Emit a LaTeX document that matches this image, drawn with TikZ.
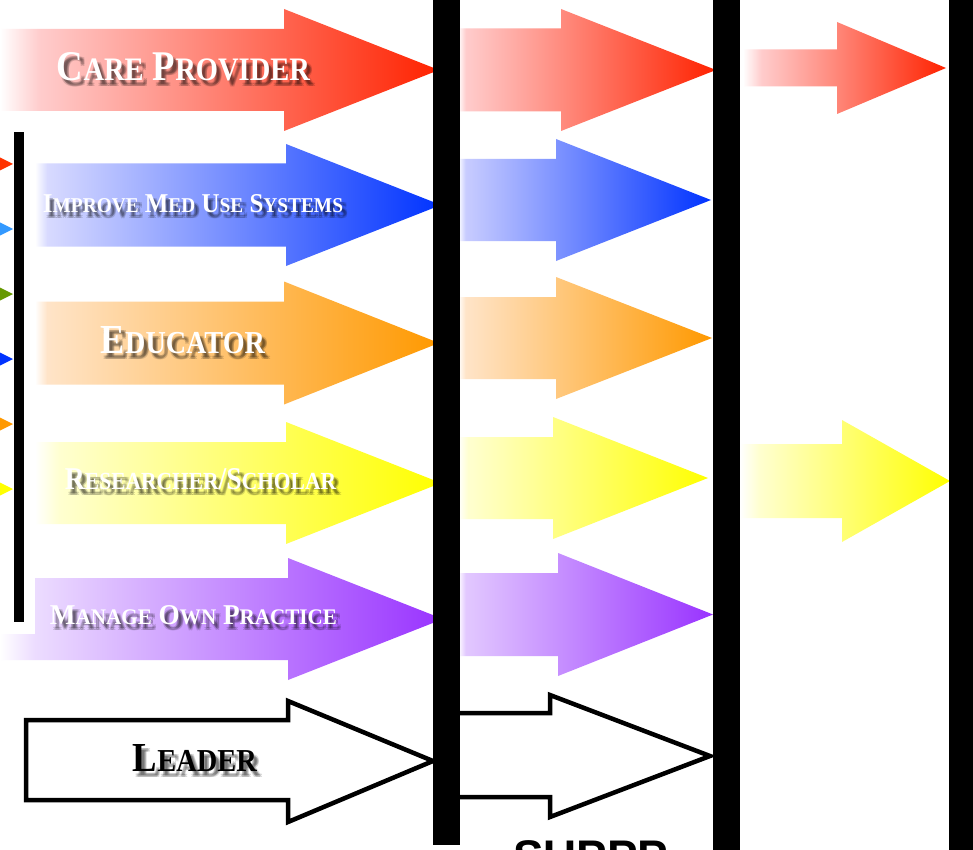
\documentclass[tikz,border=0pt]{standalone}
\usepackage{fontspec}
\usepackage{graphicx}
\newfontfamily\labelfont{Liberation Serif}
\newfontfamily\supfont{Liberation Sans}
\definecolor{redL}{HTML}{FFCCCC}
\definecolor{redD}{HTML}{FF2200}
\definecolor{blueL}{HTML}{D8DAFF}
\definecolor{blueLL}{HTML}{C8CCFF}
\definecolor{blueD}{HTML}{0033FF}
\definecolor{orgL}{HTML}{FFE4C8}
\definecolor{orgD}{HTML}{FF9900}
\definecolor{yelL}{HTML}{FFFFD0}
\definecolor{yelD}{HTML}{FFFF00}
\definecolor{purL}{HTML}{ECDCFF}
\definecolor{purLL}{HTML}{E2C8FF}
\definecolor{purD}{HTML}{9933FF}
\definecolor{triRed}{HTML}{FF3300}
\definecolor{triSky}{HTML}{3399FF}
\definecolor{triGreen}{HTML}{669900}
\definecolor{triBlue}{HTML}{0033FF}
\definecolor{triOrange}{HTML}{FF9900}
\definecolor{triYellow}{HTML}{FFFF00}
\newcommand\mkshade[4]{\pgfdeclarehorizontalshading{#1}{100bp}{color(0bp)=(white); color(25bp)=(white); color(#2bp)=(#3); color(75bp)=(#4); color(100bp)=(#4)}}
\mkshade{shRedA}{29.5}{redL}{redD}
\mkshade{shBlueA}{26.5}{blueL}{blueD}
\mkshade{shOrgA}{26.5}{orgL}{orgD}
\mkshade{shYelA}{28}{yelL}{yelD}
\mkshade{shPurA}{29}{purL}{purD}
\mkshade{shRedB}{26.5}{redL}{redD}
\mkshade{shBlueB}{26.5}{blueLL}{blueD}
\mkshade{shOrgB}{26.5}{orgL}{orgD}
\mkshade{shYelB}{27}{yelL}{yelD}
\mkshade{shPurB}{26.5}{purLL}{purD}
\mkshade{shRedC}{29.5}{redL}{redD}
\mkshade{shYelC}{29.5}{yelL}{yelD}
% #1 shading, #2 x0, #3 xhead, #4 xtip, #5 ycentre, #6 body half, #7 head half
\newcommand\fatarrow[7]{\shade[shading=#1] (#2,#5-#6) -- (#3,#5-#6) -- (#3,#5-#7) -- (#4,#5) -- (#3,#5+#7) -- (#3,#5+#6) -- (#2,#5+#6) -- cycle;}
\newcommand\fsc[2]{#1{\fontsize{15.5}{15.5}\selectfont #2}}
% #1 name, #2 x, #3 y, #4 width, #5 height, #6 colour, #7 text
\newcommand\shlabel[7]{%
  \foreach \dx/\dy [count=\k] in {3/4,5/4,3/6,5/6,4/5}{
    \node[lbl, text=black, text opacity=0.14] (#1sh\k) at (#2+\dx,#3+\dy) {\resizebox{#4pt}{#5pt}{#7}};}
  \node[lbl, text=#6] (#1) at (#2,#3) {\resizebox{#4pt}{#5pt}{#7}};}
\tikzset{
  lbl/.style={inner sep=0pt, font=\labelfont\bfseries\fontsize{20}{20}\selectfont},
  bar/.style={fill=black},
  outline/.style={draw=black, fill=white, line width=4.5pt, miter limit=20}
}
\begin{document}
\begin{tikzpicture}[x=1pt, y=-1pt]
\useasboundingbox (0,0) rectangle (973,850);
\clip (0,0) rectangle (973,850);
\fill[white] (0,0) rectangle (973,850);
% column 1
\fatarrow{shRedA}{0}{284}{439}{70}{41}{61}
\fatarrow{shBlueA}{35}{286}{441}{205}{41.5}{61}
\fatarrow{shOrgA}{35}{284}{439}{343}{41.5}{61.5}
\fatarrow{shYelA}{35}{286}{441}{483}{41}{61}
\fatarrow{shPurA}{0}{288}{443}{619}{41}{61}
\draw[outline] (26,720) -- (288,720) -- (288,701) -- (433,761) -- (288,822) -- (288,800) -- (26,800) -- cycle;
% left panel
\fill[white] (0,122) rectangle (35,634);
\fill[bar] (14,132) rectangle (24,622);
\fill[triRed] (-3,156) -- (13,164) -- (-3,172) -- cycle;
\fill[triSky] (-3,221) -- (13,229) -- (-3,237) -- cycle;
\fill[triGreen] (-3,286) -- (13,294) -- (-3,302) -- cycle;
\fill[triBlue] (-3,351) -- (13,359) -- (-3,367) -- cycle;
\fill[triOrange] (-3,416) -- (13,424) -- (-3,432) -- cycle;
\fill[triYellow] (-3,481) -- (13,489) -- (-3,497) -- cycle;
% column 2
\fatarrow{shRedB}{458}{561}{716}{70}{41.5}{61}
\fatarrow{shBlueB}{458}{556}{711}{200}{41}{61}
\fatarrow{shOrgB}{458}{556}{712}{338}{41}{61}
\fatarrow{shYelB}{458}{553}{708}{478}{41}{61}
\fatarrow{shPurB}{458}{558}{713}{614.5}{41.5}{61.5}
\draw[outline] (450,713) -- (550,713) -- (550,695) -- (710,756) -- (550,817) -- (550,797) -- (450,797);
% column 3
\fatarrow{shRedC}{743}{837}{946}{68}{18.5}{46}
\fatarrow{shYelC}{740}{842}{950}{481}{37}{61}
% bars
\fill[bar] (433,0) rectangle (460,845);
\fill[bar] (713,0) rectangle (740,850);
\fill[bar] (949,0) rectangle (973,850);
% labels
\shlabel{care}{183.5}{67}{253}{28}{white}{\fsc{C}{ARE} \fsc{P}{ROVIDER}}
\shlabel{improve}{193}{204}{300}{18}{white}{\fsc{I}{MPROVE} \fsc{M}{ED} \fsc{U}{SE} \fsc{S}{YSTEMS}}
\shlabel{educator}{183}{340.5}{164}{27}{white}{\fsc{E}{DUCATOR}}
\shlabel{research}{200.5}{479}{271}{21}{white}{\fsc{R}{ESEARCHER}/\fsc{S}{CHOLAR}}
\shlabel{manage}{193.5}{615.5}{287}{19}{white}{\fsc{M}{ANAGE} \fsc{O}{WN} \fsc{P}{RACTICE}}
\shlabel{leader}{195}{758.5}{124}{27}{black}{\fsc{L}{EADER}}
\node[anchor=north west, inner sep=0pt] (supp) at (513,840) {\resizebox{155pt}{!}{\supfont\bfseries SUPPP}};
\end{tikzpicture}
\end{document}
